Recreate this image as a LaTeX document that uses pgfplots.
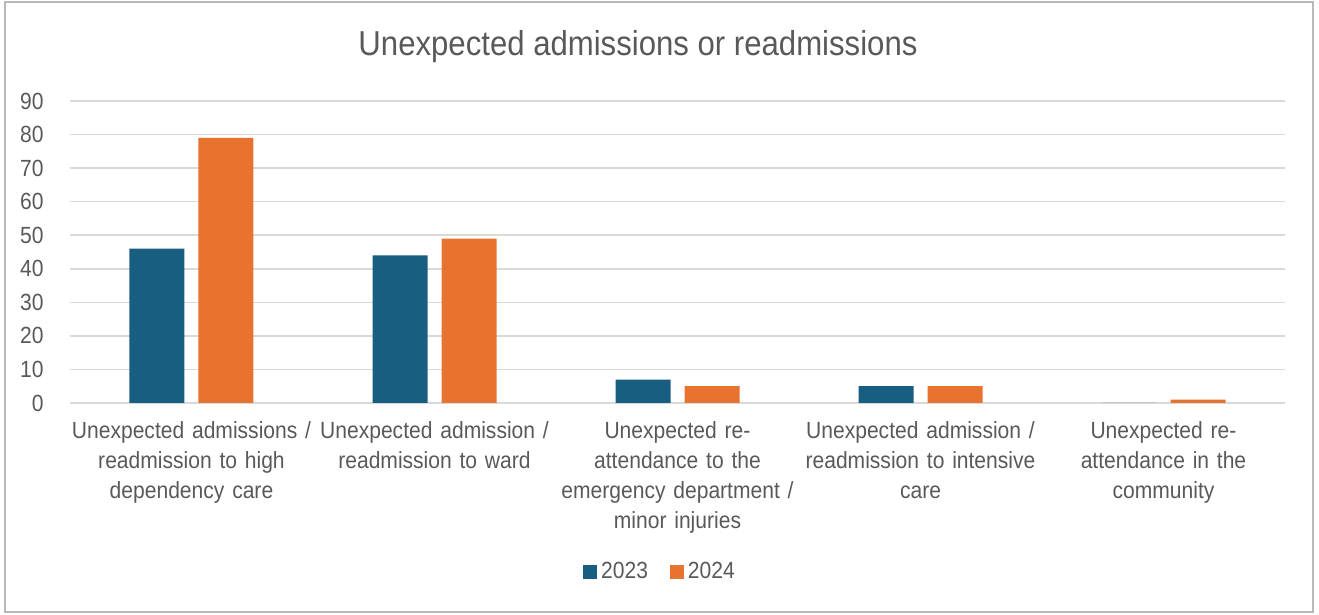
\documentclass[border=0pt]{standalone}
\usepackage{pgfplots}
\pgfplotsset{compat=1.18}
\usepackage{fontspec}
\setmainfont{Liberation Sans}[FakeStretch=0.9]
\definecolor{blue23}{HTML}{175E80}
\definecolor{orange24}{HTML}{E8722F}
\definecolor{txtgray}{HTML}{595959}
\definecolor{gridgray}{HTML}{D9D9D9}
\begin{document}
\begin{tikzpicture}
\useasboundingbox (0,0) rectangle (659.5pt,307.5pt);
\draw[gray!55, line width=0.8pt] (2.5pt,1.5pt) rectangle (656.5pt,306.5pt);
\node[txtgray, font=\fontsize{17.3}{20}\selectfont] at (319pt,284pt) {Unexpected admissions or readmissions};
\begin{axis}[
  at={(35pt,106pt)}, anchor=south west, scale only axis,
  width=607.5pt, height=151pt,
  ybar=7pt, bar width=27.5pt,
  xmin=-0.5, xmax=4.5, ymin=0, ymax=90,
  xtick={0,1,2,3,4},
  xticklabels={
    {Unexpected admissions /\\readmission to high\\dependency care},
    {Unexpected admission /\\readmission to ward},
    {Unexpected re-\\attendance to the\\emergency department /\\minor injuries},
    {Unexpected admission /\\readmission to intensive\\care},
    {Unexpected re-\\attendance in the\\community}},
  ytick={0,10,...,90},
  ymajorgrids, grid style={gridgray, line width=0.8pt},
  axis line style={draw=none},
  major tick length=0pt,
  /pgf/number format/assume math mode=true,
  tick label style={font=\fontsize{11.7}{15}\selectfont, text=txtgray},
  xticklabel style={text width=125pt, align=center, anchor=north, inner sep=0pt, yshift=-9pt},
  yticklabel style={anchor=east, inner sep=0pt, xshift=-13pt},
  legend style={at={(0.4864,-0.5596)}, anchor=center, draw=none, fill=none,
    font=\fontsize{11.7}{13}\selectfont, text=txtgray,
    /tikz/every even column/.append style={column sep=9pt}},
  legend columns=2,
  legend image code/.code={\fill[#1] (0pt,-3.5pt) rectangle (7pt,3.5pt);},
]
\addplot[fill=blue23, draw=none] coordinates {(0,46) (1,44) (2,7) (3,5) (4,0)};
\addplot[fill=orange24, draw=none] coordinates {(0,79) (1,49) (2,5) (3,5) (4,1)};
\legend{2023,2024}
\end{axis}
\end{tikzpicture}
\end{document}
